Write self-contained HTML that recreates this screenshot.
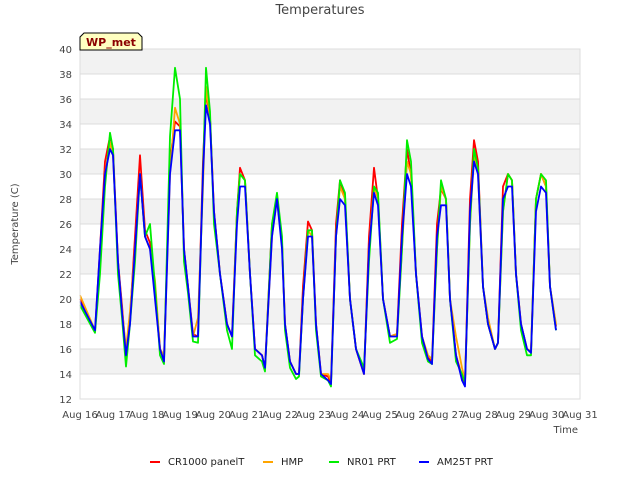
<!DOCTYPE html>
<html><head><meta charset="utf-8"><style>
body{margin:0;background:#fff;font-family:"DejaVu Sans","Liberation Sans",sans-serif;}
svg text{font-family:"DejaVu Sans","Liberation Sans",sans-serif;}
</style></head><body>
<svg id="c" width="640" height="480" viewBox="0 0 640 480" xmlns="http://www.w3.org/2000/svg">
<text x="320" y="14" text-anchor="middle" font-size="13" fill="#444">Temperatures</text>
<g id="bands"></g><g id="grid"></g><g id="series"></g><g id="axes"></g>
<rect x="80" y="49" width="500" height="350" fill="none" stroke="#ddd"/>
<g>
<path d="M84,33 L138,33 L142,37 L142,50 L80,50 L80,37 Z" fill="#ffffc0" stroke="#000" stroke-width="1"/>
<text x="111" y="46" text-anchor="middle" font-size="11" font-weight="bold" fill="#8b0000">WP_met</text>
</g>
<text x="18" y="224" transform="rotate(-90 18 224)" text-anchor="middle" font-size="10" fill="#444">Temperature (C)</text>
<text x="578" y="433" text-anchor="end" font-size="10" fill="#444">Time</text>
<g id="legend"></g>
</svg>
<script>
const times=[0,.45,.6,.75,.9,.99,1.14,1.26,
1.38,1.5,1.65,1.8,1.95,2.1,2.25,2.4,
2.52,2.7,2.85,3.0,3.12,3.24,3.39,
3.54,3.69,3.78,3.9,4.02,4.2,4.41,
4.56,4.71,4.8,4.95,5.1,5.25,5.46,
5.55,5.76,5.91,6.06,6.15,6.3,6.48,
6.57,6.69,6.84,6.96,7.08,7.23,7.44,
7.53,7.68,7.8,7.95,8.1,8.28,8.52,
8.67,8.82,8.94,9.09,9.3,9.51,
9.66,9.81,9.93,10.08,10.26,10.44,10.56,
10.71,10.83,10.98,11.1,11.28,11.46,11.55,
11.7,11.82,11.94,12.09,12.24,12.45,12.54,
12.69,12.84,12.96,13.08,13.23,13.41,13.53,
13.68,13.83,13.98,14.1,14.28];
const cr1000=[20,17.4,24,31,33,32,23,19.5,
15.5,18.5,25,31.5,25.5,24.5,21,16,
15.2,31,34.2,33.8,24,21,17.2,
17,31,36.5,34.5,27,22,18,
17,27,30.5,29.5,22,16,15.5,
14.5,26,28,24.5,18,15,14,
14,21,26.2,25.5,18,14,13.8,
13.3,26,29.5,28,20,16,14,
25,30.5,28,20,17,17.2,
26,32,30,22,17,15.3,15,
26,28.8,28,20,15.5,13.8,13.2,
28,32.7,31,21,18,16,16.5,
29,30,29.5,22,18,16,15.8,
28,30,29,21,17.8];
const hmp=[20.3,17.5,23,30,32.5,31.5,23,19.2,
16,19,24,30,25,24,21.5,16,
15.5,30,35.3,34,24,21,17,
18.5,29,37,34.5,27,22,18,
17,27,30,29.5,22,16,15.5,
14.5,25,28,24.5,18,15,14,
14,20,25.5,25,18,14,14,
13.5,25,29,28,20,16,14,
24,29,28,20,17,17.2,
24,31,30,22,17,15.5,15.2,
24,29,28,20,17,14.5,13.5,
26,31.5,30,21,18.5,16,16.5,
27,30,29.5,22,18,16,15.8,
28,30,29,21,18];
const nr01=[19.5,17.3,22,29,33.3,32,22,18.5,
14.6,18,23,30,25,26,21,15.5,
14.8,33,38.5,36,23,20.5,16.6,
16.5,30,38.5,35,26,22,17.5,
16,27,30,29.5,22,15.5,15,
14.2,26,28.5,25,17.5,14.5,13.6,
13.8,20,25.5,25.5,17.5,13.8,13.5,
13,25,29.5,28.5,20,16,14.5,
23,29,28.5,20,16.5,16.8,
24,32.7,31,22,16.5,15,14.8,
24,29.5,28,20,15,14,13.3,
26,32,30.5,21,18,16,16.5,
27,30,29.5,22,17.5,15.5,15.5,
28,30,29.5,21,17.5];
const am25t=[19.8,17.5,24,30,32,31.5,23,19,
15.5,18,24,30,25,24,20,16,
15,30,33.5,33.5,24,21,17,
17,30,35.5,34,27,22,18,
17,26,29,29,22,16,15.5,
14.5,25,28,24,18,15,14,
14,20,25,25,18,14,13.5,
13.2,25,28,27.5,20,16,14,
24,28.5,27.5,20,17,17,
25,30,29,22,17,15.2,14.8,
25,27.5,27.5,20,15.5,13.5,13,
27,31,30,21,18,16,16.5,
28,29,29,22,18,16,15.7,
27,29,28.5,21,17.5];
const yTicks=[12,14,16,18,20,22,24,26,28,30,32,34,36,38,40];
const xLabels=["Aug 16","Aug 17","Aug 18","Aug 19","Aug 20","Aug 21","Aug 22","Aug 23","Aug 24","Aug 25","Aug 26","Aug 27","Aug 28","Aug 29","Aug 30","Aug 31"];
const seriesNames=["CR1000 panelT","HMP","NR01 PRT","AM25T PRT"];
const seriesColors=["#ff0000","#ffa500","#00ee00","#0000ff"];
const seriesData=[cr1000,hmp,nr01,am25t];
const NS="http://www.w3.org/2000/svg";
const X0=80,X1=580,Y0=399,Y1=49;
const xs=d=>X0+(X1-X0)*d/(xLabels.length-1);
const ys=v=>Y0-(Y0-Y1)*(v-12)/(40-12);
function mk(t,a,p){const e=document.createElementNS(NS,t);for(const k in a)e.setAttribute(k,a[k]);p.appendChild(e);return e;}
const bands=document.getElementById('bands'),grid=document.getElementById('grid'),axes=document.getElementById('axes');
for(let i=0;i<yTicks.length-1;i++){
  if((yTicks.length-2-i)%2===0){
    const r=mk('rect',{x:X0,y:ys(yTicks[i+1]),width:X1-X0,height:ys(yTicks[i])-ys(yTicks[i+1]),fill:'#f2f2f2'},bands);
    
    
  }
}
yTicks.forEach(v=>{
  const l=mk('line',{x1:X0,x2:X1,y1:ys(v),y2:ys(v),stroke:'#dcdcdc'},grid);
  
  
  const t=mk('text',{x:X0-8,y:ys(v)+4,'text-anchor':'end','font-size':'10',fill:'#444'},axes);
  t.textContent=v;
  
  
});
xLabels.forEach((s,i)=>{
  const t=mk('text',{x:xs(i),y:418,'text-anchor':'middle','font-size':'10',fill:'#444'},axes);
  t.textContent=s;
  
  
});
const sg=document.getElementById('series');
seriesData.forEach((arr,si)=>{
  const pts=arr.map((v,i)=>xs(times[i]).toFixed(1)+','+ys(v).toFixed(1)).join(' ');
  const p=mk('polyline',{points:pts,fill:'none',stroke:seriesColors[si],'stroke-width':'1.8','stroke-linejoin':'round'},sg);
  
  
});
const lg=document.getElementById('legend');
const lx=[150,263,329,419];
seriesNames.forEach((n,i)=>{
  const g=mk('g',{},lg);
  
  
  mk('line',{x1:lx[i],x2:lx[i]+10,y1:462,y2:462,stroke:seriesColors[i],'stroke-width':'2'},g);
  const t=mk('text',{x:lx[i]+18,y:465,'font-size':'10',fill:'#222'},g);
  t.textContent=n;
});
</script>
</body></html>
